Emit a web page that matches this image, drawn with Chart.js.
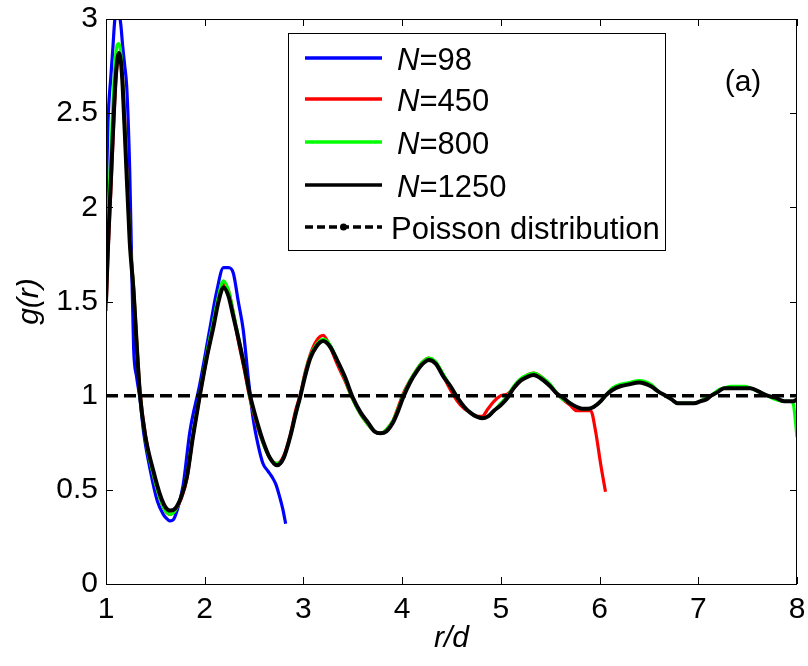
<!DOCTYPE html>
<html>
<head>
<meta charset="utf-8">
<script src="https://cdn.jsdelivr.net/npm/chart.js@4.4.0/dist/chart.umd.min.js"></script>
<style>
  body { margin: 0; background: #fff; }
  canvas { display: block; }
</style>
</head>
<body>
<canvas id="chart" width="808" height="666"></canvas>
<script>
// r/d positions shared by N=1250 and N=800
const rFine = [1.00,1.02,1.05,1.07,1.10,1.13,1.16,1.19,1.24,1.28,
  1.31,1.345,1.40,1.48,1.55,1.60,1.65,1.70,1.76,1.82,
  1.88,1.95,2.02,2.09,2.14,2.19,2.24,2.29,2.33,2.40,
  2.46,2.52,2.59,2.66,2.73,2.80,2.87,2.92,2.97,3.02,
  3.07,3.13,3.20,3.27,3.34,3.42,3.50,3.58,3.65,3.72,
  3.78,3.84,3.91,3.96,4.01,4.08,4.15,4.21,4.27,4.34,
  4.42,4.49,4.56,4.63,4.69,4.75,4.81,4.87,4.93,5.00,
  5.07,5.13,5.20,5.27,5.33,5.41,5.50,5.57,5.63,5.70,
  5.77,5.83,5.88,5.94,6.01,6.06,6.13,6.21,6.30,6.40,
  6.52,6.60,6.67,6.73,6.79,6.89,6.96,7.02,7.08,7.13,
  7.20,7.26,7.33,7.40,7.47,7.53,7.62,7.70,7.78,7.87,
  7.93,7.96,8.00];

const g1250 = [1.50,1.79,2.15,2.39,2.70,2.82,2.72,2.40,1.82,1.55,
  1.28,1.00,0.78,0.60,0.47,0.41,0.39,0.40,0.46,0.57,
  0.78,1.00,1.20,1.37,1.50,1.575,1.53,1.42,1.33,1.16,
  1.00,0.88,0.76,0.67,0.63,0.67,0.79,0.90,1.00,1.11,
  1.20,1.26,1.29,1.26,1.19,1.10,0.99,0.91,0.86,0.81,
  0.80,0.81,0.86,0.92,0.99,1.07,1.13,1.17,1.19,1.17,
  1.10,1.05,0.99,0.94,0.91,0.89,0.88,0.89,0.92,0.95,
  0.99,1.04,1.08,1.10,1.11,1.09,1.05,1.01,0.99,0.96,
  0.94,0.93,0.93,0.94,0.97,1.00,1.03,1.05,1.06,1.07,
  1.05,1.02,1.00,0.98,0.96,0.96,0.96,0.97,0.98,1.00,
  1.02,1.04,1.04,1.04,1.04,1.04,1.02,1.00,0.99,0.97,
  0.97,0.97,0.98];

const g800 = [1.55,1.90,2.30,2.55,2.82,2.87,2.75,2.42,1.84,1.56,
  1.28,1.00,0.77,0.58,0.45,0.39,0.37,0.39,0.46,0.58,
  0.79,1.01,1.22,1.40,1.53,1.61,1.56,1.44,1.34,1.16,
  0.99,0.87,0.75,0.67,0.64,0.67,0.79,0.90,1.00,1.12,
  1.21,1.27,1.30,1.27,1.19,1.09,0.98,0.90,0.85,0.81,
  0.80,0.82,0.87,0.93,1.00,1.08,1.14,1.18,1.20,1.18,
  1.11,1.05,0.99,0.94,0.91,0.89,0.88,0.89,0.92,0.96,
  1.00,1.05,1.09,1.11,1.12,1.10,1.06,1.01,0.98,0.96,
  0.94,0.93,0.93,0.94,0.97,1.00,1.04,1.06,1.07,1.08,
  1.06,1.02,1.00,0.98,0.96,0.96,0.96,0.97,0.99,1.00,
  1.03,1.04,1.05,1.05,1.05,1.04,1.02,1.00,0.98,0.97,
  0.97,0.96,0.78];

const r450 = [1.00,1.02,1.05,1.07,1.10,1.13,1.16,1.19,1.24,1.28,
  1.31,1.345,1.40,1.48,1.55,1.60,1.65,1.70,1.76,1.82,
  1.88,1.95,2.02,2.09,2.14,2.19,2.24,2.29,2.33,2.40,
  2.46,2.52,2.59,2.66,2.73,2.80,2.87,2.92,2.97,3.02,
  3.07,3.13,3.20,3.27,3.34,3.42,3.50,3.58,3.65,3.72,
  3.78,3.84,3.91,3.96,4.01,4.08,4.15,4.21,4.27,4.34,
  4.42,4.49,4.56,4.63,4.69,4.75,4.81,4.87,4.93,5.00,
  5.07,5.13,5.20,5.27,5.33,5.41,5.50,5.57,5.63,5.70,
  5.77,5.83,5.91,5.96,6.01,6.06];
const g450 = [1.45,1.75,2.10,2.35,2.68,2.80,2.74,2.45,1.85,1.57,
  1.30,1.02,0.79,0.58,0.45,0.39,0.37,0.39,0.45,0.56,
  0.78,1.00,1.20,1.38,1.52,1.59,1.56,1.44,1.32,1.14,
  0.98,0.86,0.75,0.67,0.64,0.68,0.80,0.92,1.01,1.13,
  1.22,1.29,1.32,1.26,1.17,1.08,0.98,0.90,0.85,0.81,
  0.80,0.82,0.87,0.94,1.01,1.08,1.14,1.18,1.20,1.17,
  1.10,1.03,0.97,0.93,0.91,0.89,0.89,0.93,0.97,1.00,
  1.01,1.04,1.08,1.11,1.12,1.10,1.05,1.01,0.98,0.95,
  0.92,0.92,0.92,0.81,0.64,0.49];

const r98 = [1.00,1.02,1.05,1.07,1.09,1.11,1.13,1.15,1.17,1.19,
  1.21,1.24,1.26,1.28,1.31,1.345,1.38,1.45,1.52,1.58,
  1.63,1.65,1.68,1.72,1.78,1.85,1.95,2.05,2.12,2.19,
  2.24,2.29,2.34,2.39,2.44,2.49,2.54,2.59,2.64,2.68,
  2.72,2.75,2.79,2.82];
const g98 = [2.00,2.45,2.70,2.85,3.00,3.03,3.03,2.97,2.85,2.75,
  2.64,2.20,1.70,1.25,1.10,0.98,0.81,0.60,0.44,0.37,
  0.34,0.335,0.34,0.39,0.52,0.81,1.06,1.35,1.55,1.68,
  1.68,1.65,1.50,1.35,1.10,0.88,0.74,0.64,0.60,0.57,
  0.53,0.48,0.40,0.32];

const rPoisson = [1, 8];
const gPoisson = [1, 1];

const xTicks = [1, 2, 3, 4, 5, 6, 7, 8];
const yTicks = [0, 0.5, 1, 1.5, 2, 2.5, 3];

const FONT = '"Liberation Sans", Arial, sans-serif';

function toPoints(xs, ys) {
  return xs.map((x, i) => ({ x: x, y: ys[i] }));
}

// frame, inward ticks, legend box and panel label
const decorations = {
  id: 'decorations',
  afterDraw(chart) {
    const ctx = chart.ctx;
    const a = chart.chartArea;
    const xs = chart.scales.x, ys = chart.scales.y;
    ctx.save();
    ctx.strokeStyle = '#000';
    ctx.lineWidth = 1;
    ctx.setLineDash([]);
    ctx.strokeRect(a.left + 0.5, a.top + 0.5, a.right - a.left - 1, a.bottom - a.top);
    const tl = 7;
    ctx.beginPath();
    xTicks.forEach(v => {
      const px = Math.round(xs.getPixelForValue(v)) + 0.5;
      ctx.moveTo(px, a.bottom); ctx.lineTo(px, a.bottom - tl);
      ctx.moveTo(px, a.top); ctx.lineTo(px, a.top + tl);
    });
    yTicks.forEach(v => {
      const py = Math.round(ys.getPixelForValue(v)) + 0.5;
      ctx.moveTo(a.left, py); ctx.lineTo(a.left + tl, py);
      ctx.moveTo(a.right, py); ctx.lineTo(a.right - tl, py);
    });
    ctx.stroke();

    // legend
    const bx = a.left + 182, by = a.top + 14, bw = 377, bh = 217;
    ctx.fillStyle = '#fff';
    ctx.fillRect(bx, by, bw, bh);
    ctx.strokeRect(bx + 0.5, by + 0.5, bw, bh);
    const rows = [25, 66, 109, 152, 194];
    const lx0 = bx + 17, lx1 = bx + 94, tx = bx + 109;
    chart.data.datasets.forEach((ds, i) => {
      const y = by + rows[i];
      ctx.strokeStyle = ds.borderColor;
      ctx.lineWidth = 3.5;
      ctx.setLineDash(ds.borderDash ? [8, 4] : []);
      ctx.beginPath();
      ctx.moveTo(lx0, y); ctx.lineTo(lx1, y);
      ctx.stroke();
      ctx.setLineDash([]);
      if (ds.borderDash) {
        ctx.fillStyle = '#000';
        ctx.beginPath();
        ctx.arc((lx0 + lx1) / 2, y, 3.5, 0, Math.PI * 2);
        ctx.fill();
      }
      ctx.fillStyle = '#000';
      ctx.textBaseline = 'middle';
      ctx.textAlign = 'left';
      if (ds.label.startsWith('N=')) {
        ctx.font = 'italic 31px ' + FONT;
        ctx.fillText('N', tx, y + 3);
        const w = ctx.measureText('N').width;
        ctx.font = '31px ' + FONT;
        ctx.fillText(ds.label.slice(1), tx + w, y + 3);
      } else {
        ctx.font = '31px ' + FONT;
        ctx.fillText(ds.label, tx - 6, y + 3);
      }
    });

    ctx.font = '30px ' + FONT;
    ctx.textAlign = 'center';
    ctx.fillText('(a)', a.right - 54, a.top + 64);
    ctx.restore();
  }
};

const lineStyle = { pointRadius: 0, fill: false, cubicInterpolationMode: 'monotone' };

new Chart(document.getElementById('chart'), {
  type: 'line',
  data: {
    datasets: [
      { label: 'N=98', data: toPoints(r98, g98), borderColor: '#0000ff', borderWidth: 3.2, order: 4, ...lineStyle },
      { label: 'N=450', data: toPoints(r450, g450), borderColor: '#ff0000', borderWidth: 3.2, order: 3, ...lineStyle },
      { label: 'N=800', data: toPoints(rFine, g800), borderColor: '#00ff00', borderWidth: 3.2, order: 2, ...lineStyle },
      { label: 'N=1250', data: toPoints(rFine, g1250), borderColor: '#000000', borderWidth: 4, order: 1, ...lineStyle },
      { label: 'Poisson distribution', data: toPoints(rPoisson, gPoisson), borderColor: '#000000', borderWidth: 3.5, borderDash: [12, 6], order: 0, ...lineStyle }
    ]
  },
  options: {
    responsive: false,
    animation: false,
    events: [],
    layout: { padding: { top: 19, right: 11, bottom: 0, left: 0 } },
    plugins: { legend: { display: false }, tooltip: { enabled: false } },
    scales: {
      x: {
        type: 'linear', min: 1, max: 8,
        afterFit(scale) {
          scale.height = 82;
          scale.paddingLeft = 0; scale.paddingRight = 0;
        },
        afterBuildTicks(scale) { scale.ticks = xTicks.map(v => ({ value: v })); },
        grid: { display: false, drawTicks: false },
        border: { display: false },
        ticks: { color: '#000', padding: 8, font: { family: FONT, size: 30 }, maxRotation: 0, callback: v => String(v) },
        title: { display: true, text: 'r/d', color: '#000', padding: { top: 0, bottom: 9 }, font: { family: FONT, size: 30, style: 'italic' } }
      },
      y: {
        type: 'linear', min: 0, max: 3,
        afterFit(scale) {
          scale.width = 106;
          scale.paddingTop = 0; scale.paddingBottom = 0;
        },
        afterBuildTicks(scale) { scale.ticks = yTicks.map(v => ({ value: v })); },
        grid: { display: false, drawTicks: false },
        border: { display: false },
        ticks: { color: '#000', padding: 8, font: { family: FONT, size: 30 }, callback: v => String(v) },
        title: { display: true, text: 'g(r)', color: '#000', padding: { top: 12, bottom: 0 }, font: { family: FONT, size: 30, style: 'italic' } }
      }
    }
  },
  plugins: [decorations]
});
</script>
</body>
</html>
